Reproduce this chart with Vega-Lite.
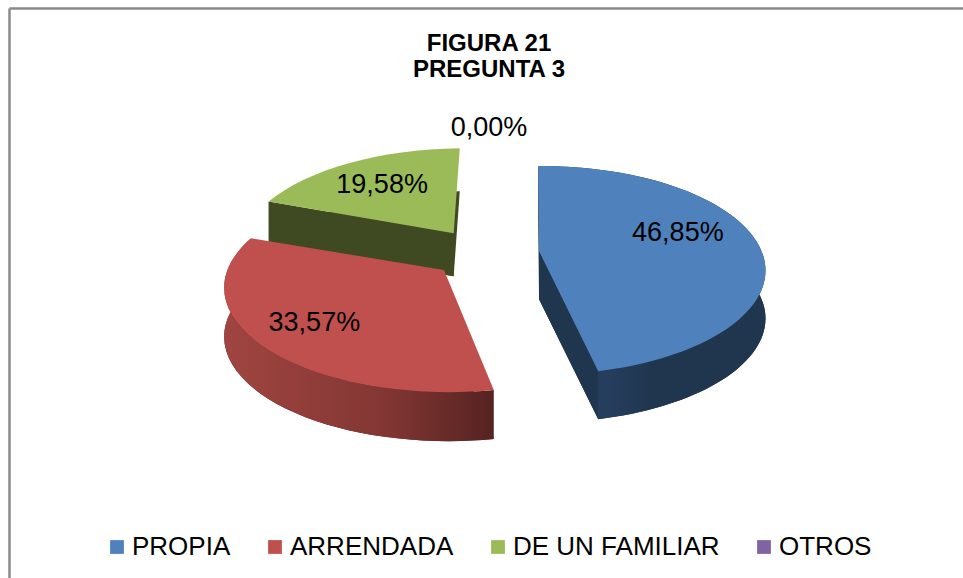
{
  "$schema": "https://vega.github.io/schema/vega-lite/v6.json",
  "width": 954,
  "height": 570,
  "padding": {"left": 9, "top": 8, "right": 0, "bottom": 0},
  "autosize": {"type": "none"},
  "background": "white",
  "config": {"view": {"stroke": null}},
  "title": {
    "text": ["FIGURA 21", "PREGUNTA 3"],
    "font": "Liberation Sans",
    "fontSize": 24,
    "fontWeight": "bold",
    "color": "black",
    "lineHeight": 26,
    "anchor": "middle",
    "dx": 3,
    "baseline": "top",
    "offset": -74
  },
  "data": {
    "values": [
      {"categoria": "PROPIA", "porcentaje": 46.85, "orden": 1},
      {"categoria": "ARRENDADA", "porcentaje": 33.57, "orden": 2},
      {"categoria": "DE UN FAMILIAR", "porcentaje": 19.58, "orden": 3},
      {"categoria": "OTROS", "porcentaje": 0, "orden": 4}
    ]
  },
  "transform": [
    {"stack": "porcentaje", "sort": [{"field": "orden", "order": "ascending"}], "as": ["inicio", "fin"]},
    {"calculate": "datum.inicio*PI/50", "as": "t0"},
    {"calculate": "datum.fin*PI/50", "as": "t1"},
    {"calculate": "(datum.t0+datum.t1)/2", "as": "m"},
    {"calculate": "54.3*sin(datum.m)", "as": "dx"},
    {"calculate": "-25*cos(datum.m)", "as": "dy"},
    {"calculate": "221*sin(datum.t0)/(1+0.183*cos(datum.t0))", "as": "xa"},
    {"calculate": "round(-100.5*cos(datum.t0)/(1+0.183*cos(datum.t0))*10)/10", "as": "y0"},
    {"calculate": "221*sin(datum.t1)/(1+0.183*cos(datum.t1))", "as": "xb"},
    {"calculate": "round(-100.5*cos(datum.t1)/(1+0.183*cos(datum.t1))*10)/10", "as": "y1"},
    {"calculate": "round((datum.xa+(datum.dx+datum.xa-41)*0.0008*(datum.y0+datum.dy))*10)/10", "as": "x0"},
    {"calculate": "round((datum.xb+(datum.dx+datum.xb-41)*0.0008*(datum.y1+datum.dy))*10)/10", "as": "x1"},
    {"calculate": "round(49-7*max(cos(datum.m),0))", "as": "D"},
    {"calculate": "(datum.fin-datum.inicio)>50?1:0", "as": "g"},
    {"calculate": "datum.porcentaje==0?1.22:(datum.categoria==='ARRENDADA'?0.73:(datum.categoria==='PROPIA'?0.62:0.65))", "as": "r"},
    {"calculate": "datum.dx+4+221*datum.r*sin(datum.m)/(1+0.183*datum.r*cos(datum.m))", "as": "lx"},
    {"calculate": "datum.dy-100.5*datum.r*cos(datum.m)/(1+0.183*datum.r*cos(datum.m))+(datum.categoria==='PROPIA'?-12:0)", "as": "ly"},
    {"calculate": "replace(format(datum.porcentaje,'.2f'),'.',',')+'%'", "as": "etiqueta"},
    {"calculate": "'M0 0L'+datum.x0+' '+datum.y0+'A225 104.3 0 '+datum.g+' 1 '+datum.x1+' '+datum.y1+'Z'", "as": "sup"},
    {"calculate": "'M0 '+datum.D+'L'+datum.x0+' '+(datum.y0+datum.D)+'A225 104.3 0 '+datum.g+' 1 '+datum.x1+' '+(datum.y1+datum.D)+'Z'", "as": "fondo"},
    {"calculate": "'M'+datum.x0+' '+datum.y0+'A225 104.3 0 '+datum.g+' 1 '+datum.x1+' '+datum.y1+'L'+datum.x1+' '+(datum.y1+datum.D)+'A225 104.3 0 '+datum.g+' 0 '+datum.x0+' '+(datum.y0+datum.D)+'Z'", "as": "banda"},
    {"calculate": "'M0 0Z'+(sin(datum.t0)<-0.01?'M0 0L'+datum.x0+' '+datum.y0+'L'+datum.x0+' '+(datum.y0+datum.D)+'L0 '+datum.D+'Z':'')+(sin(datum.t1)>0.01?'M0 0L'+datum.x1+' '+datum.y1+'L'+datum.x1+' '+(datum.y1+datum.D)+'L0 '+datum.D+'Z':'')", "as": "caras"}
  ],
  "encoding": {
    "x": {
      "field": "dx",
      "type": "quantitative",
      "scale": {"domain": [-476, 478], "nice": false, "zero": false},
      "axis": {"orient": "top", "title": null, "ticks": false, "labels": false, "grid": false, "domainColor": "#8a8a8a", "domainWidth": 2.5}
    },
    "y": {
      "field": "dy",
      "type": "quantitative",
      "scale": {"domain": [-245.6, 324.4], "nice": false, "zero": false, "reverse": true},
      "axis": {"orient": "left", "title": null, "ticks": false, "labels": false, "grid": false, "domainColor": "#8a8a8a", "domainWidth": 2.5}
    }
  },
  "layer": [
    {
      "mark": {"type": "point", "filled": true, "size": 4, "opacity": 1},
      "encoding": {
        "shape": {"field": "fondo", "type": "nominal", "scale": null},
        "fill": {
          "field": "categoria",
          "type": "nominal",
          "scale": {"domain": ["OTROS", "PROPIA", "ARRENDADA", "DE UN FAMILIAR"], "range": ["#4b3b60", "#20364f", "#5a2523", "#3f4a22"]},
          "legend": null
        }
      }
    },
    {
      "mark": {"type": "point", "filled": true, "size": 4, "opacity": 1},
      "encoding": {
        "shape": {"field": "caras", "type": "nominal", "scale": null},
        "fill": {
          "field": "categoria",
          "type": "nominal",
          "scale": {"domain": ["OTROS", "PROPIA", "ARRENDADA", "DE UN FAMILIAR"], "range": ["#4b3b60", "#20364f", "#5a2523", "#3f4a22"]},
          "legend": null
        }
      }
    },
    {
      "transform": [{"filter": "datum.categoria==='PROPIA'"}],
      "mark": {
        "type": "point", "filled": true, "size": 4, "opacity": 1,
        "fill": {"gradient": "linear", "x1": 0, "y1": 0, "x2": 1, "y2": 0, "stops": [{"offset": 0, "color": "#263e5e"}, {"offset": 0.3, "color": "#263e5e"}, {"offset": 0.5, "color": "#20364f"}, {"offset": 1, "color": "#20364f"}]}
      },
      "encoding": {"shape": {"field": "banda", "type": "nominal", "scale": null}}
    },
    {
      "transform": [{"filter": "datum.categoria==='ARRENDADA'"}],
      "mark": {
        "type": "point", "filled": true, "size": 4, "opacity": 1,
        "fill": {"gradient": "linear", "x1": 0, "y1": 0, "x2": 1, "y2": 0, "stops": [{"offset": 0, "color": "#a04541"}, {"offset": 0.6, "color": "#823633"}, {"offset": 1, "color": "#552321"}]}
      },
      "encoding": {"shape": {"field": "banda", "type": "nominal", "scale": null}}
    },
    {
      "mark": {"type": "point", "filled": true, "size": 4, "opacity": 1},
      "encoding": {
        "shape": {"field": "sup", "type": "nominal", "scale": null},
        "color": {
          "field": "categoria",
          "type": "nominal",
          "scale": {"domain": ["PROPIA", "ARRENDADA", "DE UN FAMILIAR", "OTROS"], "range": ["#4f81bd", "#c0504d", "#9bbb59", "#8064a2"]},
          "legend": {
            "orient": "none",
            "columns": 4,
            "columnPadding": 31,
            "title": null,
            "legendX": 95,
            "legendY": 526,
            "symbolType": "square",
            "symbolSize": 190,
            "labelFont": "Liberation Sans",
            "labelFontSize": 26,
            "labelColor": "black",
            "labelOffset": 2,
            "labelLimit": 400
          }
        }
      }
    },
    {
      "mark": {"type": "text", "font": "Liberation Sans", "fontSize": 27, "color": "black", "align": "center", "baseline": "middle"},
      "encoding": {
        "x": {"field": "lx", "type": "quantitative"},
        "y": {"field": "ly", "type": "quantitative"},
        "text": {"field": "etiqueta", "type": "nominal"}
      }
    }
  ]
}
